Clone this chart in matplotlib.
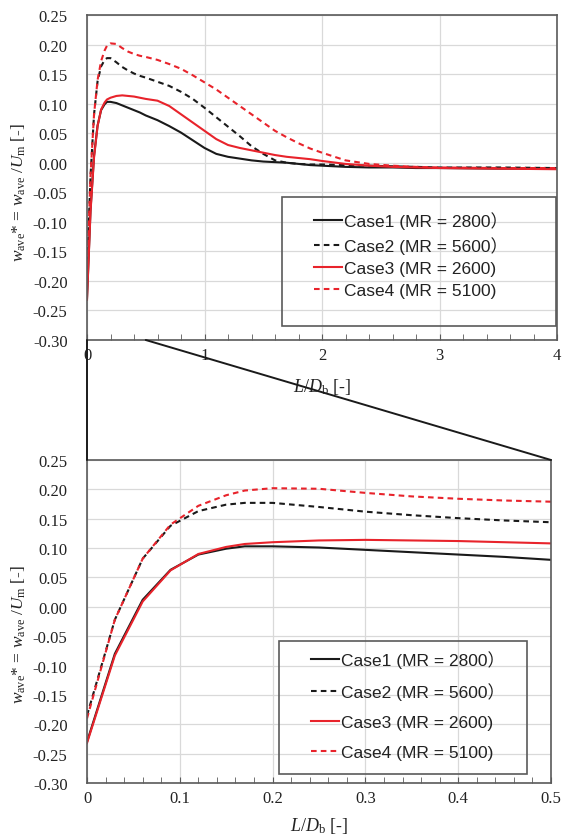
import matplotlib
matplotlib.use('Agg')
import matplotlib.pyplot as plt
from matplotlib.patches import Rectangle, ConnectionPatch
from matplotlib.ticker import MultipleLocator, FuncFormatter
from matplotlib.font_manager import FontProperties

plt.rcParams['font.family'] = 'Liberation Serif'
plt.rcParams['mathtext.fontset'] = 'custom'
plt.rcParams['mathtext.rm'] = 'Liberation Serif'
plt.rcParams['mathtext.it'] = 'Liberation Serif:italic'
plt.rcParams['axes.unicode_minus'] = False

# L/Db
x_ld = [0, 0.03, 0.06, 0.09, 0.12, 0.15, 0.17, 0.2, 0.25, 0.3, 0.35, 0.4, 0.45, 0.5,
        0.6, 0.7, 0.8, 0.9, 1.0, 1.1, 1.2, 1.3, 1.4, 1.5, 1.6, 1.7, 1.8, 1.9, 2.0,
        2.2, 2.4, 2.6, 2.8, 3.0, 3.5, 4.0]

case1 = [-0.230, -0.080, 0.012, 0.063, 0.089, 0.099, 0.103, 0.103, 0.101, 0.097, 0.093, 0.089, 0.085, 0.080,
         0.072, 0.062, 0.051, 0.038, 0.025, 0.015, 0.010, 0.007, 0.004, 0.002, 0.001, 0.000, -0.002, -0.004, -0.005,
         -0.007, -0.008, -0.008, -0.009, -0.009, -0.010, -0.010]
case2 = [-0.185, -0.022, 0.082, 0.138, 0.163, 0.174, 0.177, 0.177, 0.170, 0.162, 0.156, 0.151, 0.147, 0.144,
         0.137, 0.130, 0.120, 0.108, 0.093, 0.077, 0.061, 0.045, 0.028, 0.015, 0.004, 0.000, -0.002, -0.003, -0.003,
         -0.004, -0.005, -0.006, -0.007, -0.008, -0.008, -0.009]
case3 = [-0.232, -0.083, 0.009, 0.062, 0.090, 0.102, 0.107, 0.110, 0.113, 0.114, 0.113, 0.112, 0.110, 0.108,
         0.105, 0.096, 0.082, 0.068, 0.054, 0.040, 0.030, 0.025, 0.021, 0.017, 0.013, 0.010, 0.008, 0.006, 0.003,
         -0.002, -0.005, -0.007, -0.008, -0.009, -0.010, -0.011]
case4 = [-0.190, -0.022, 0.082, 0.140, 0.172, 0.190, 0.198, 0.202, 0.201, 0.194, 0.188, 0.184, 0.181, 0.179,
         0.174, 0.167, 0.159, 0.148, 0.136, 0.124, 0.110, 0.096, 0.082, 0.068, 0.054, 0.043, 0.033, 0.024, 0.017,
         0.004, -0.002, -0.005, -0.007, -0.008, -0.009, -0.009]

nombres = ['Case1 (MR = 2800\uff09', 'Case2 (MR = 5600\uff09', 'Case3 (MR = 2600)', 'Case4 (MR = 5100)']
colores = ['#1a1a1a', '#1a1a1a', '#e8232b', '#e8232b']
estilos = ['-', '--', '-', '--']

W, H = 563, 837
gris = '#5a5a5a'


def dibujar(ax, xmax, paso, paso_menor):
    lineas = []
    for y, c, ls, n in zip([case1, case2, case3, case4], colores, estilos, nombres):
        l, = ax.plot(x_ld, y, color=c, lw=1.5, label=n)
        if ls == '--':
            l.set_dashes((2.7, 2))
        lineas.append(l)
    ax.set_xlim(0, xmax)
    ax.set_ylim(-0.30, 0.25)
    ax.xaxis.set_major_locator(MultipleLocator(paso))
    ax.xaxis.set_minor_locator(MultipleLocator(paso_menor))
    ax.yaxis.set_major_locator(MultipleLocator(0.05))
    ax.xaxis.set_major_formatter(FuncFormatter(lambda v, p: f'{v:g}'))
    ax.yaxis.set_major_formatter(FuncFormatter(lambda v, p: f'{v:.2f}'))
    ax.grid(True, color='#d9d9d9', lw=0.9)
    ax.set_axisbelow(True)
    for s in ax.spines.values():
        s.set_color(gris)
        s.set_linewidth(1.2)
    ax.tick_params(axis='x', which='both', direction='in', length=4, color=gris,
                   labelsize=12, pad=5, labelcolor='#222222')
    ax.tick_params(axis='y', length=0, pad=14, labelsize=12, labelcolor='#222222')
    ax.set_ylabel(r'$w_{\rm ave}$* = $w_{\rm ave}$ /$U_{\rm m}$ [-]', fontsize=12.5, color='#222222')
    ax.set_xlabel(r'$L/D_{\rm b}$ [-]', fontsize=13, color='#222222')
    return lineas


def leyenda(fig, ax, lineas, caja, x_izq, y_centro, espacio):
    x0, x1, y0, y1 = caja
    fig.add_artist(Rectangle((x0 / W, 1 - y1 / H), (x1 - x0) / W, (y1 - y0) / H,
                             transform=fig.transFigure, fill=False, edgecolor=gris, lw=1.2))
    fuente = FontProperties(family=['Liberation Sans', 'Noto Sans CJK JP'], size=12.5)
    leg = ax.legend(handles=lineas, loc='center left', bbox_to_anchor=(x_izq / W, 1 - y_centro / H),
                    bbox_transform=fig.transFigure, frameon=False, borderpad=0, borderaxespad=0,
                    handlelength=1.6, handletextpad=0.15, labelspacing=espacio, prop=fuente)
    for t in leg.get_texts():
        t.set_color('#222222')


fig = plt.figure(figsize=(W / 100, H / 100), dpi=100)
ax1 = fig.add_axes([87 / W, 1 - 341 / H, 470 / W, 325 / H])
ax2 = fig.add_axes([87 / W, 1 - 784 / H, 464 / W, 323 / H])

l1 = dibujar(ax1, 4, 1, 0.2)
l2 = dibujar(ax2, 0.5, 0.1, 0.02)

ax1.yaxis.set_label_coords((19 - 87) / 470, (341 - 193) / 325)
ax2.yaxis.set_label_coords((19 - 87) / 464, (784 - 635) / 323)
ax1.xaxis.set_label_coords(0.5, (341 - 387) / 325)
ax2.xaxis.set_label_coords(0.5, (784 - 826) / 323)
ax1.xaxis.label.set_va('center')
ax2.xaxis.label.set_va('center')
ax1.yaxis.label.set_va('center')
ax2.yaxis.label.set_va('center')

leyenda(fig, ax1, l1, (282, 556, 198, 327), 314, 256, 0.4)
leyenda(fig, ax2, l2, (279, 527, 642, 775), 311, 706, 0.85)

# lineas del zoom
for xa in [0, 0.5]:
    con = ConnectionPatch(xyA=(xa, -0.30), coordsA=ax1.transData, xyB=(xa, 0.25), coordsB=ax2.transData,
                          color='#1a1a1a', lw=1.4)
    fig.add_artist(con)

fig.savefig('out.png', dpi=100)
